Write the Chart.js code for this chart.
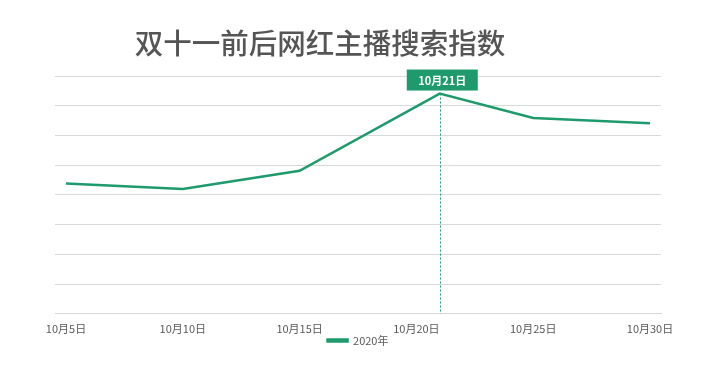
<!DOCTYPE html>
<html>
<head>
<meta charset="utf-8">
<script src="https://cdn.jsdelivr.net/npm/chart.js@4"></script>
<style>
  html, body { margin: 0; padding: 0; background: #fff; }
  #wrap { width: 714px; height: 373px; }
</style>
</head>
<body>
<div id="wrap"><canvas id="chart"></canvas></div>
<script>
// 双十一前后网红主播搜索指数 (2020)
const titleText = "双十一前后网红主播搜索指数"
const seriesName = "2020年"
const days = [5, 10, 15, 21, 25, 30]
const values = [43.8, 42.0, 48.1, 74.1, 65.9, 64.1]
const tickDays = [5, 10, 15, 20, 25, 30]
const peakLabel = "10月21日"

const green = "#1e9a6d"
const font = "'Noto Sans CJK SC', 'Noto Sans', sans-serif"

// title sits a bit left of centre, like the original
const titlePlugin = {
  id: "offTitle",
  afterDraw(chart) {
    const ctx = chart.ctx
    ctx.save()
    ctx.font = `500 28.5px ${font}`
    ctx.fillStyle = "#555555"
    ctx.textAlign = "center"
    ctx.textBaseline = "middle"
    ctx.fillText(titleText, 320, 43)
    ctx.restore()
  }
}

// dotted drop line + date tag on the peak point
const peakPlugin = {
  id: "peakMark",
  afterDatasetsDraw(chart) {
    const meta = chart.getDatasetMeta(0)
    const idx = values.indexOf(Math.max(...values))
    const pt = meta.data[idx]
    const bottom = chart.chartArea.bottom
    const ctx = chart.ctx
    ctx.save()
    ctx.strokeStyle = green
    ctx.lineWidth = 1
    ctx.setLineDash([2, 2])
    ctx.beginPath()
    ctx.moveTo(Math.round(pt.x) + 0.5, pt.y)
    ctx.lineTo(Math.round(pt.x) + 0.5, bottom)
    ctx.stroke()
    ctx.setLineDash([])
    const w = 71, h = 21
    ctx.fillStyle = green
    ctx.fillRect(pt.x - 33, pt.y - 24, w, h)
    ctx.fillStyle = "#fff"
    ctx.font = `bold 11px ${font}`
    ctx.textAlign = "center"
    ctx.textBaseline = "middle"
    ctx.fillText(peakLabel, pt.x - 33 + w / 2, pt.y - 24 + h / 2 + 0.5)
    ctx.restore()
  }
}

new Chart(document.getElementById("chart"), {
  type: "line",
  data: {
    datasets: [{
      label: seriesName,
      data: days.map((d, i) => ({ x: d, y: values[i] })),
      borderColor: green,
      backgroundColor: green,
      borderWidth: 2.5,
      pointRadius: 0,
      tension: 0,
      fill: false,
    }]
  },
  plugins: [titlePlugin, peakPlugin],
  options: {
    responsive: true,
    maintainAspectRatio: false,
    animation: false,
    layout: { padding: { top: 76, left: 55, right: 53, bottom: 17 } },
    scales: {
      x: {
        type: "linear",
        min: 4.53,
        max: 30.47,
        afterBuildTicks: (axis) => { axis.ticks = tickDays.map(v => ({ value: v })) },
        grid: { display: false },
        border: { display: true, color: "#d9d9d9" },
        ticks: {
          autoSkip: false,
          maxRotation: 0,
          padding: 0,
          color: "#595959",
          font: { family: font, size: 11 },
          callback: (v) => `10月${v}日`,
        },
      },
      y: {
        min: 0,
        max: 80,
        ticks: { display: false, stepSize: 10 },
        grid: { color: "#d9d9d9", drawTicks: false },
        border: { display: false },
      },
    },
    plugins: {
      legend: {
        position: "bottom",
        labels: {
          boxWidth: 20,
          boxHeight: 2,
          padding: 0,
          color: "#595959",
          font: { family: font, size: 11 },
        },
      },
      tooltip: { enabled: false },
    },
  },
})
</script>
</body>
</html>
